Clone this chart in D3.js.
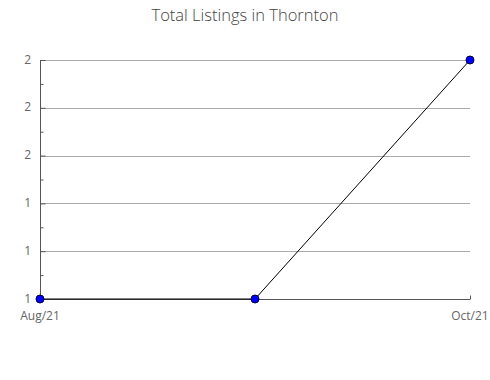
<!DOCTYPE html>
<html><head><meta charset="utf-8">
<script src="https://cdn.jsdelivr.net/npm/d3@7"></script>
<style>body{margin:0;background:#fff;} svg{display:block;}</style>
</head><body>
<svg id="c" width="490" height="380"></svg>
<script>
const months = ["Aug/21", "Sep/21", "Oct/21"];
const listings = [1, 1, 2];
const xTickLabels = ["Aug/21", "Oct/21"];
const yTicks = [1, 1.2, 1.4, 1.6, 1.8, 2];
const yMinorTicks = [1.1, 1.3, 1.5, 1.7, 1.9];

const svg = d3.select("#c");
const font = "'Open Sans', sans-serif";
const m = {l: 40, r: 20, t: 60, b: 81};
const W = 490, H = 380;
const x = d3.scalePoint().domain(months).range([m.l, W - m.r]);
const y = d3.scaleLinear().domain([1, 2]).range([H - m.b, m.t]);

svg.append("text").attr("x", 245).attr("y", 21).attr("text-anchor", "middle")
  .attr("font-family", font).attr("font-size", 16.5).attr("font-weight", 300).attr("fill", "#444")
  .text("Total Listings in Thornton");

// gridlines
svg.append("g").selectAll("line").data(yTicks.slice(1)).join("line")
  .attr("x1", m.l).attr("x2", W - m.r)
  .attr("y1", d => Math.round(y(d)) + 0.5).attr("y2", d => Math.round(y(d)) + 0.5)
  .attr("stroke", "#aaa").attr("stroke-width", 1);

// y axis
const yAxis = d3.axisRight(y).tickValues(yTicks).tickSize(5).tickFormat("");
const gy = svg.append("g").attr("transform", `translate(${m.l + 0.5},0)`).call(yAxis);
gy.select(".domain").attr("stroke", "#555").attr("d", `M0,${m.t}V${H - m.b}`);
gy.selectAll(".tick line").attr("stroke", "#555");
const yMinor = d3.axisRight(y).tickValues(yMinorTicks).tickSize(3).tickFormat("");
const gym = svg.append("g").attr("transform", `translate(${m.l + 0.5},0)`).call(yMinor);
gym.select(".domain").remove();
gym.selectAll(".tick line").attr("stroke", "#555");

// y labels
svg.append("g").selectAll("text").data(yTicks).join("text")
  .attr("x", 31).attr("y", d => y(d) + 3.5).attr("text-anchor", "end")
  .attr("font-family", font).attr("font-size", 12).attr("fill", "#666")
  .text(d => d3.format(".0f")(d));

// x axis
const xAxis = d3.axisTop(x).tickValues(xTickLabels).tickSize(4).tickFormat("");
const gx = svg.append("g").attr("transform", `translate(0,${H - m.b + 0.5})`).call(xAxis);
gx.select(".domain").attr("stroke", "#555").attr("d", `M${m.l},0H${W - m.r}`);
gx.selectAll(".tick line").attr("stroke", "#555");
svg.append("g").selectAll("text").data(xTickLabels).join("text")
  .attr("x", d => x(d)).attr("y", H - m.b + 20.5).attr("text-anchor", "middle")
  .attr("font-family", font).attr("font-size", 12).attr("fill", "#666")
  .text(d => d);

// line
const line = d3.line().x((d, i) => x(months[i])).y(d => y(d));
svg.append("path").datum(listings).attr("d", line)
  .attr("fill", "none").attr("stroke", "#000").attr("stroke-width", 1);

svg.append("g").selectAll("circle").data(listings).join("circle")
  .attr("cx", (d, i) => x(months[i])).attr("cy", d => y(d)).attr("r", 4)
  .attr("fill", "#0000ff").attr("stroke", "#000044").attr("stroke-width", 1);
</script>
</body></html>
